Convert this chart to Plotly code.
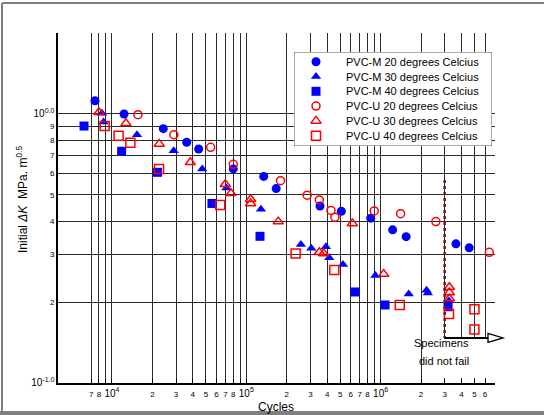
import math
import plotly.graph_objects as go

# ---------------- data ----------------
pvcm20_n = [7470, 12300, 24100, 36000, 44200, 80000, 134800, 167000, 354000, 510000,
            844000, 1.23e6, 1.55e6, 3.64e6, 4.57e6]
pvcm20_k = [1.12, 1.00, 0.882, 0.785, 0.741, 0.625, 0.586, 0.528, 0.455, 0.435,
            0.410, 0.371, 0.350, 0.329, 0.318]

pvcm30_n = [8420, 8650, 15350, 28800, 47000, 71200, 128600, 255000, 305000, 392000,
            415000, 525000, 914000, 1.62e6, 2.20e6, 2.25e6, 3.23e6]
pvcm30_k = [1.006, 0.934, 0.838, 0.730, 0.625, 0.531, 0.442, 0.327, 0.317, 0.321,
            0.292, 0.276, 0.251, 0.214, 0.221, 0.216, 0.202]

pvcm40_n = [6190, 11800, 21800, 55500, 126500, 645000, 1.08e6, 3.18e6]
pvcm40_k = [0.902, 0.727, 0.607, 0.465, 0.351, 0.218, 0.195, 0.192]

pvcu20_n = [15600, 28900, 54300, 80000, 180000, 284000, 350000, 427000, 457000,
            897000, 1.41e6, 2.58e6, 6.45e6]
pvcu20_k = [0.994, 0.838, 0.752, 0.650, 0.565, 0.499, 0.479, 0.438, 0.413,
            0.436, 0.426, 0.398, 0.306]

pvcu30_n = [8000, 12700, 22500, 38300, 69800, 76900, 107800, 107800, 173000, 350000,
            377000, 616000, 1.055e6, 3.25e6, 3.25e6, 3.25e6]
pvcu30_k = [1.015, 0.923, 0.774, 0.661, 0.548, 0.507, 0.482, 0.465, 0.398, 0.306,
            0.303, 0.392, 0.254, 0.227, 0.217, 0.206]

pvcu40_n = [8820, 11200, 13700, 22400, 64000, 233000, 452000, 1.39e6, 3.23e6, 5.0e6, 5.0e6]
pvcu40_k = [0.902, 0.830, 0.782, 0.625, 0.459, 0.303, 0.263, 0.195, 0.1805, 0.188, 0.158]

series_names = ["PVC-M 20 degrees Celcius", "PVC-M 30 degrees Celcius",
                "PVC-M 40 degrees Celcius", "PVC-U 20 degrees Celcius",
                "PVC-U 30 degrees Celcius", "PVC-U 40 degrees Celcius"]

x_tickvals = [7e3, 8e3, 1e4, 2e4, 3e4, 4e4, 5e4, 6e4, 7e4, 8e4, 1e5,
              2e5, 3e5, 4e5, 5e5, 6e5, 7e5, 8e5, 1e6, 2e6, 3e6, 4e6, 5e6, 6e6]
BIG = "<span style='font-size:10px'>10<sup>%s</sup></span>"
x_ticktext = ["7", "8", BIG % "4", "2", "3", "4", "5", "6", "7", "8", BIG % "5",
              "2", "3", "4", "5", "6", "7", "8", BIG % "6", "2", "3", "4", "5", "6"]
x_unlabelled = [9e3, 9e4, 9e5]

y_tickvals = [0.1, 0.2, 0.3, 0.4, 0.5, 0.6, 0.7, 0.8, 0.9, 1.0]
y_ticktext = [BIG % "-1.0", "2", "3", "4", "5", "6", "7", "8", "9", BIG % "0.0"]

# not-failed marker line (cycles, K range)
runout_n = 3e6
runout_k = [0.568, 0.147]

BLUE = "#0000ff"
RED = "#ff0000"

styles = [
    dict(symbol="circle", color=BLUE, size=9),
    dict(symbol="triangle-up", color=BLUE, size=9),
    dict(symbol="square", color=BLUE, size=9),
    dict(symbol="circle-open", color=RED, size=8, line=dict(color=RED, width=1.5)),
    dict(symbol="triangle-up-open", color=RED, size=9, line=dict(color=RED, width=1.5)),
    dict(symbol="square-open", color=RED, size=9, line=dict(color=RED, width=1.5)),
]
data = [(pvcm20_n, pvcm20_k), (pvcm30_n, pvcm30_k), (pvcm40_n, pvcm40_k),
        (pvcu20_n, pvcu20_k), (pvcu30_n, pvcu30_k), (pvcu40_n, pvcu40_k)]

fig = go.Figure()
for (xs, ys), name, st in zip(data, series_names, styles):
    fig.add_trace(go.Scatter(x=xs, y=ys, mode="markers", name=name, marker=st,
                             showlegend=False))

# ------------- custom compact legend (separate overlay axes) -------------
LW, LH = 198, 94
fig.add_trace(go.Scatter(x=[0, LW, LW, 0, 0], y=[0, 0, LH, LH, 0], mode="lines",
                         fill="toself", fillcolor="white",
                         line=dict(color="#555555", width=1),
                         xaxis="x2", yaxis="y2", showlegend=False, hoverinfo="skip"))
row0, rowh = 9.7, 14.8
for i, (name, st) in enumerate(zip(series_names, styles)):
    fig.add_trace(go.Scatter(x=[22], y=[row0 + i * rowh], mode="markers", name=name,
                             marker=st, xaxis="x2", yaxis="y2", showlegend=False,
                             hoverinfo="skip"))
    fig.add_annotation(x=50, y=row0 + i * rowh, xref="x2", yref="y2", text=name,
                       showarrow=False, xanchor="left", yanchor="middle",
                       font=dict(size=11, color="black"))

# ------------- layout -------------
W, H = 544, 415
ML, MR, MT, MB = 58, 49, 33, 32
PW, PH = W - ML - MR, H - MT - MB
xr = [3.598, 6.852]
GRID = "#2a2a2a"


def px(xpix):
    return (xpix - ML) / PW


def py(ypix):
    return (H - MB - ypix) / PH


fig.update_layout(
    width=W, height=H,
    margin=dict(l=ML, r=MR, t=MT, b=MB, pad=0),
    paper_bgcolor="white", plot_bgcolor="white",
    font=dict(family="Liberation Sans, Arial, sans-serif", color="black"),
    xaxis=dict(type="log", range=xr, tickvals=x_tickvals, ticktext=x_ticktext,
               tickfont=dict(size=8), showgrid=True, gridcolor=GRID, gridwidth=1,
               showline=True, linecolor="black", linewidth=2, ticks="inside",
               ticklen=4, tickcolor="black", zeroline=False, tickangle=0,
               ticklabelstandoff=2,
               minor=dict(tickvals=x_unlabelled, showgrid=True, gridcolor=GRID,
                          gridwidth=1, ticks="inside", ticklen=4, tickcolor="black")),
    yaxis=dict(type="log", range=[-1, math.log10(2)], tickvals=y_tickvals,
               ticktext=y_ticktext, tickfont=dict(size=8), showgrid=True,
               gridcolor=GRID, gridwidth=1, showline=True, linecolor="black",
               linewidth=2, ticks="", zeroline=False),
    xaxis2=dict(domain=[px(294), px(294 + LW)], range=[0, LW], visible=False,
                anchor="y2", fixedrange=True),
    yaxis2=dict(domain=[py(52 + LH), py(52)], range=[LH, 0], visible=False,
                anchor="x2", fixedrange=True),
    showlegend=False,
)

# runout annotation: white box, dotted line, arrow, text
shapes = [
    dict(type="rect", xref="paper", yref="paper", x0=px(440), x1=px(497),
         y0=py(378), y1=py(339), fillcolor="white", line=dict(width=0), layer="above"),
    dict(type="line", xref="x", yref="y", x0=runout_n, x1=runout_n,
         y0=runout_k[0], y1=runout_k[1], line=dict(color="#7a1414", width=2.5, dash="dot"),
         layer="above"),
]
x_run = (math.log10(runout_n) - xr[0]) / (xr[1] - xr[0])
y_arrow = (math.log10(runout_k[1]) + 1) / (math.log10(2) + 1)
x_head0 = px(488)
x_tip = px(503)
shapes.append(dict(type="line", xref="paper", yref="paper", x0=x_run, x1=x_head0,
                   y0=y_arrow, y1=y_arrow, line=dict(color="black", width=2)))
hh = 4.5 / PH
shapes.append(dict(type="path", xref="paper", yref="paper",
                   path=f"M {x_head0},{y_arrow + hh} L {x_tip},{y_arrow} L {x_head0},{y_arrow - hh} Z",
                   fillcolor="white", line=dict(color="black", width=1.3)))
# outer frame
shapes += [
    dict(type="line", xref="paper", yref="paper", x0=px(2), x1=px(2), y0=py(413), y1=py(3),
         line=dict(color="#7f7f7f", width=2)),
    dict(type="line", xref="paper", yref="paper", x0=px(2), x1=px(560), y0=py(3), y1=py(3),
         line=dict(color="#7f7f7f", width=2)),
    dict(type="line", xref="paper", yref="paper", x0=px(0), x1=px(560), y0=py(413), y1=py(413),
         line=dict(color="#7f7f7f", width=4)),
]
fig.update_layout(shapes=shapes)

fig.add_annotation(x=px(471), y=py(351), xref="paper", yref="paper", text="Specimens",
                   showarrow=False, font=dict(size=11))
fig.add_annotation(x=px(471), y=py(369), xref="paper", yref="paper", text="did not fail",
                   showarrow=False, font=dict(size=11))

# axis titles
fig.add_annotation(x=px(276), y=py(414.5), xref="paper", yref="paper", text="Cycles",
                   showarrow=False, yanchor="bottom", borderpad=0, font=dict(size=12))
fig.add_annotation(x=px(12), y=py(200), xref="paper", yref="paper",
                   text="Initial <i>ΔK</i>  MPa. m<sup>0.5</sup>", textangle=-90,
                   showarrow=False, font=dict(size=12))

fig.write_html("out.html", config={"displayModeBar": False},
               post_script="document.body.style.margin='0';")
